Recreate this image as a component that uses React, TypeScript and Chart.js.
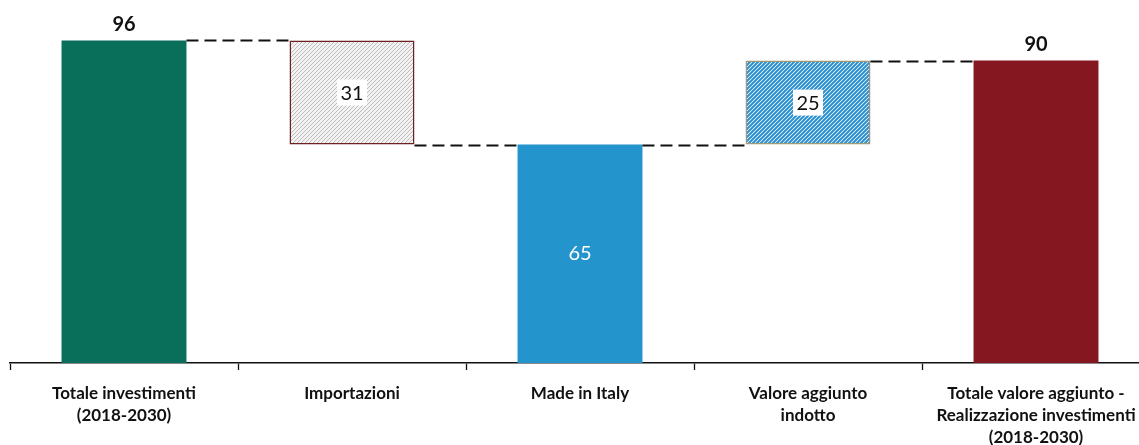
import React, { useEffect, useRef } from "react";
import { Chart, registerables } from "chart.js";

Chart.register(...registerables);

// Waterfall: investments, imports, domestic share, induced value added, total
const categories: string[][] = [
  ["Totale investimenti", "(2018-2030)"],
  ["Importazioni"],
  ["Made in Italy"],
  ["Valore aggiunto", "indotto"],
  ["Totale valore aggiunto -", "Realizzazione investimenti", "(2018-2030)"],
];
const values: number[] = [96, -31, 65, 25, 90];
const kinds: string[] = ["total", "step", "total", "step", "total"];

const FONT = "Lato, 'Open Sans', sans-serif";

function buildRanges() {
  const ranges: [number, number][] = [];
  const levels: number[] = [];
  let running = 0;
  values.forEach((v, i) => {
    if (kinds[i] === "total") {
      ranges.push([0, v]);
      running = v;
    } else {
      const next = running + v;
      ranges.push([Math.min(running, next), Math.max(running, next)]);
      running = next;
    }
    levels.push(running);
  });
  return { ranges, levels };
}

function hatch(color: string, bg: string, size: number, width: number) {
  const c = document.createElement("canvas");
  c.width = size;
  c.height = size;
  const g = c.getContext("2d")!;
  g.fillStyle = bg;
  g.fillRect(0, 0, size, size);
  g.strokeStyle = color;
  g.lineWidth = width;
  g.beginPath();
  g.moveTo(-1, size + 1);
  g.lineTo(size + 1, -1);
  g.moveTo(-1, 1);
  g.lineTo(1, -1);
  g.moveTo(size - 1, size + 1);
  g.lineTo(size + 1, size - 1);
  g.stroke();
  return g.createPattern(c, "repeat")!;
}

export default function App() {
  const ref = useRef<HTMLCanvasElement>(null);

  useEffect(() => {
    const canvas = ref.current!;
    const ctx = canvas.getContext("2d")!;
    const { ranges, levels } = buildRanges();

    const grayHatch = hatch("#bcbcbc", "#f2f2f2", 4, 1);
    const blueHatch = hatch("#2a8fd0", "#ffffff", 4, 2);

    const fills = ["#096f5b", grayHatch, "#2394cc", blueHatch, "#851720"];
    const borders = ["#096f5b", "#6e1f22", "#2394cc", "#a3977a", "#851720"];
    const borderWidths = [0, 1.5, 0, 1.5, 0];

    const connectors = {
      id: "connectors",
      afterDatasetsDraw(chart: any) {
        const meta = chart.getDatasetMeta(0);
        const y = chart.scales.y;
        const c = chart.ctx;
        c.save();
        c.strokeStyle = "#111";
        c.lineWidth = 1.8;
        c.setLineDash([12, 6]);
        for (let i = 0; i < meta.data.length - 1; i++) {
          const a = meta.data[i];
          const b = meta.data[i + 1];
          const yy = Math.round(y.getPixelForValue(levels[i])) + 0.5;
          c.beginPath();
          c.moveTo(a.x + a.width / 2, yy);
          c.lineTo(b.x - b.width / 2, yy);
          c.stroke();
        }
        c.restore();
      },
    };

    const valueLabels = {
      id: "valueLabels",
      afterDatasetsDraw(chart: any) {
        const meta = chart.getDatasetMeta(0);
        const c = chart.ctx;
        c.save();
        c.textAlign = "center";
        c.textBaseline = "middle";
        meta.data.forEach((bar: any, i: number) => {
          const text = String(Math.abs(values[i]));
          const top = Math.min(bar.y, bar.base);
          const bottom = Math.max(bar.y, bar.base);
          const mid = (top + bottom) / 2;
          if (kinds[i] === "total" && (i === 0 || i === values.length - 1)) {
            c.font = `bold 20px ${FONT}`;
            c.fillStyle = "#111";
            c.fillText(text, bar.x, top - 16);
          } else if (kinds[i] === "total") {
            c.font = `20px ${FONT}`;
            c.fillStyle = "#ffffff";
            c.fillText(text, bar.x, mid);
          } else {
            c.font = `20px ${FONT}`;
            c.fillStyle = "#ffffff";
            c.fillRect(bar.x - 15, mid - 13, 30, 26);
            c.fillStyle = "#111";
            c.fillText(text, bar.x, mid + 1);
          }
        });
        c.restore();
      },
    };

    const chart = new Chart(ctx, {
      type: "bar",
      data: {
        labels: categories,
        datasets: [
          {
            data: ranges as any,
            backgroundColor: fills as any,
            borderColor: borders,
            borderWidth: borderWidths,
            borderSkipped: false,
            barPercentage: 0.548,
            categoryPercentage: 1,
          },
        ],
      },
      options: {
        responsive: false,
        animation: false,
        devicePixelRatio: 1,
        layout: { padding: { left: 10, right: 10, top: 27, bottom: 0 } },
        plugins: { legend: { display: false }, tooltip: { enabled: false } },
        scales: {
          y: { display: false, min: 0, max: 100 },
          x: {
            grid: {
              display: true,
              drawOnChartArea: false,
              drawTicks: true,
              tickLength: 7,
              tickColor: "#111",
              tickWidth: 1.3,
              offset: true,
            },
            border: { display: true, color: "#111", width: 1.6 },
            ticks: {
              color: "#111",
              font: { family: FONT, size: 17, weight: "bold", lineHeight: 1.3 },
              padding: 12,
              maxRotation: 0,
              autoSkip: false,
            },
            afterFit(scale: any) {
              scale.height = 82;
            },
          },
        },
      },
      plugins: [connectors, valueLabels],
    });
    return () => chart.destroy();
  }, []);

  return (
    <div
      style={{
        position: "fixed",
        left: 0,
        top: 0,
        width: 1139,
        height: 445,
        overflow: "hidden",
        background: "#fff",
      }}
    >
      <canvas ref={ref} width={1160} height={445} style={{ display: "block" }} />
    </div>
  );
}
